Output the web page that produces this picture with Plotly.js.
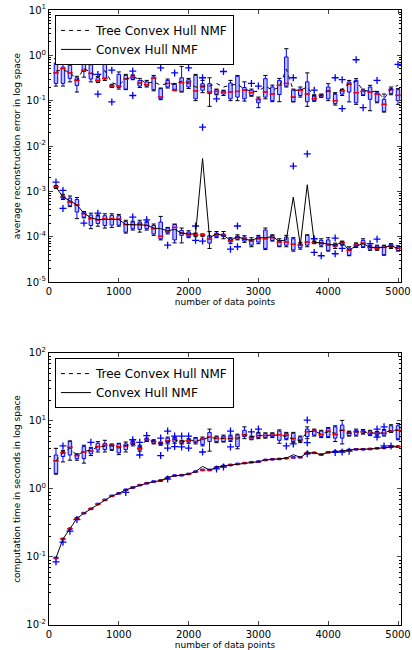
<!DOCTYPE html>
<html><head><meta charset="utf-8">
<script src="https://cdn.plot.ly/plotly-3.0.1.min.js"></script>
<style>html,body{margin:0;padding:0;background:#fff}#chart{width:412px;height:650px}</style>
</head><body><div id="chart"></div>
<script>
// number of data points (box positions)
const sizes = [100,200,300,400,500,600,700,800,900,1000,1100,1200,1300,1400,1500,1600,1700,1800,1900,2000,
  2100,2200,2300,2400,2500,2600,2700,2800,2900,3000,3100,3200,3300,3400,3500,3600,3700,3800,3900,4000,
  4100,4200,4300,4400,4500,4600,4700,4800,4900,5000];

// ---- Top: reconstruction error, Tree Convex Hull NMF ----
const errTreeQ1 = [.24,.24,.31,.215,.44,.30,.26,.30,.20,.195,.18,.30,.21,.21,.175,.11,.20,.17,.16,.20,
  .11,.17,.143,.14,.14,.11,.12,.11,.13,.09,.12,.10,.137,.21,.095,.13,.095,.10,.12,.11,
  .086,.14,.155,.09,.135,.107,.094,.058,.143,.10];
const errTreeMed = [.41,.51,.41,.28,.47,.40,.28,.31,.21,.21,.30,.33,.245,.226,.316,.12,.24,.172,.25,.26,
  .165,.21,.155,.16,.155,.155,.16,.17,.15,.107,.155,.14,.218,.24,.12,.17,.14,.11,.13,.16,
  .10,.165,.23,.15,.16,.155,.14,.083,.175,.131];
const errTreeQ3 = [.68,.55,.60,.32,.89,.62,.32,.85,.22,.38,.36,.36,.28,.26,.333,.184,.28,.23,.32,.29,
  .36,.237,.237,.175,.165,.245,.345,.195,.17,.11,.306,.20,.28,.92,.17,.18,.26,.13,.135,.20,
  .14,.175,.258,.28,.17,.20,.15,.107,.184,.175];
const errTreeLo = [.21,.21,.26,.155,.33,.26,.25,.28,.195,.18,.175,.29,.195,.20,.165,.105,.19,.165,.155,.185,
  .10,.15,.075,.135,.13,.10,.10,.098,.125,.07,.11,.095,.095,.20,.094,.12,.075,.097,.118,.10,
  .08,.13,.094,.083,.13,.06,.09,.056,.135,.083];
const errTreeHi = [.84,.78,.66,.345,1.05,.66,.34,1.05,.23,.43,.38,.37,.31,.28,.36,.19,.30,.24,.57,.31,
  .38,.28,.32,.18,.17,.28,.36,.26,.18,.12,.36,.22,.31,1.4,.18,.20,.41,.135,.14,.237,
  .15,.18,.28,.306,.18,.218,.16,.14,.20,.184];
const errTreeMean = [.45,.47,.43,.28,.52,.42,.33,.46,.25,.22,.30,.33,.30,.24,.26,.22,.24,.23,.27,.24,
  .20,.20,.21,.24,.20,.22,.23,.18,.16,.16,.21,.17,.20,.50,.17,.17,.20,.12,.13,.17,
  .14,.18,.24,.27,.17,.16,.16,.11,.18,.22];
const errTreeOutX = [700,700,900,900,1200,1200,1300,1600,1800,2000,2200,2200,2400,2400,2500,2900,3000,3500,3800,4100,4200,4200,4400,4500,4700,5000];
const errTreeOutY = [.38,.14,.47,.094,.45,.13,.84,.53,.41,.53,.32,.026,.77,.11,.44,.24,.21,.32,.17,.32,.29,.067,.8,.07,.28,.63];

// ---- Top: reconstruction error, Convex Hull NMF ----
const errHullQ1 = [1.2e-3,7.0e-4,4.8e-4,3.5e-4,2.7e-4,1.77e-4,1.95e-4,1.77e-4,1.8e-4,1.8e-4,1.26e-4,1.5e-4,1.45e-4,1.5e-4,1.15e-4,9.0e-5,1.22e-4,8.5e-5,1.07e-4,1.0e-4,
  1.05e-4,1.05e-4,7.2e-5,1.0e-4,1.0e-4,7.6e-5,8.8e-5,8e-5,6.5e-5,7.6e-5,5.5e-5,8.3e-5,6.2e-5,6.5e-5,5.1e-5,5.7e-5,6.5e-5,7.2e-5,6.5e-5,5e-5,
  6e-5,6.7e-5,3.9e-5,6e-5,6e-5,5.3e-5,5.2e-5,4e-5,5.8e-5,5e-5];
const errHullMed = [1.25e-3,7.4e-4,5.8e-4,5.0e-4,3.2e-4,2.5e-4,2.35e-4,2.5e-4,2.5e-4,2.45e-4,1.85e-4,1.85e-4,1.9e-4,1.77e-4,1.5e-4,1.02e-4,1.3e-4,1.6e-4,1.2e-4,1.1e-4,
  1.1e-4,1.1e-4,8.8e-5,1.1e-4,1.07e-4,8.1e-5,9.5e-5,8.8e-5,8.0e-5,9.0e-5,9.0e-5,9.5e-5,7.6e-5,7.6e-5,6.8e-5,6.5e-5,7.6e-5,7.4e-5,7.2e-5,6.5e-5,
  6.3e-5,7.4e-5,5e-5,6.5e-5,7.2e-5,5.8e-5,5.5e-5,5.8e-5,6.2e-5,5.6e-5];
const errHullQ3 = [1.3e-3,8.0e-4,7.1e-4,6.6e-4,3.5e-4,3.0e-4,2.9e-4,2.9e-4,2.95e-4,2.9e-4,2.15e-4,2.1e-4,2.1e-4,2.1e-4,1.77e-4,2.1e-4,1.55e-4,1.85e-4,1.37e-4,1.26e-4,
  1.15e-4,1.13e-4,1.05e-4,1.2e-4,1.15e-4,9.0e-5,1.03e-4,9.8e-5,8.6e-5,1.0e-4,1.4e-4,1.07e-4,8.3e-5,9.8e-5,9e-5,7e-5,1.07e-4,7.8e-5,8.3e-5,8.5e-5,
  6.8e-5,7.8e-5,5.6e-5,7e-5,8.3e-5,6.2e-5,6.2e-5,6.3e-5,6.8e-5,6e-5];
const errHullLo = [1.15e-3,6.6e-4,4.6e-4,2.5e-4,2.6e-4,1.5e-4,1.7e-4,1.55e-4,1.6e-4,1.7e-4,1.2e-4,1.4e-4,1.26e-4,1.4e-4,1.07e-4,8.5e-5,1.15e-4,7.3e-5,7.3e-5,9.5e-5,
  1.0e-4,1.02e-4,5.5e-5,9.5e-5,9e-5,7e-5,8.5e-5,7.5e-5,6e-5,7e-5,5.2e-5,8e-5,6e-5,6e-5,4.8e-5,5.3e-5,6e-5,7e-5,6e-5,4.8e-5,
  5.5e-5,6.5e-5,3.8e-5,5.8e-5,5.8e-5,5e-5,5e-5,3.9e-5,5.5e-5,4.8e-5];
const errHullHi = [1.35e-3,8.6e-4,7.9e-4,7.3e-4,3.6e-4,3.3e-4,3.0e-4,3.2e-4,3.2e-4,3.1e-4,2.3e-4,2.2e-4,2.3e-4,2.2e-4,1.9e-4,2.8e-4,1.6e-4,1.9e-4,1.55e-4,1.35e-4,
  1.2e-4,1.15e-4,1.3e-4,1.3e-4,1.3e-4,9.5e-5,1.1e-4,1.05e-4,9.5e-5,1.07e-4,1.55e-4,1.1e-4,9e-5,1.07e-4,9.5e-5,7.5e-5,1.1e-4,8e-5,9e-5,9.5e-5,
  7.2e-5,8e-5,6e-5,7.3e-5,9e-5,6.5e-5,6.5e-5,6.5e-5,7e-5,6.3e-5];
const errHullMean = [1.25e-3,7.5e-4,6.2e-4,5.0e-4,3.3e-4,2.6e-4,2.4e-4,2.4e-4,2.45e-4,2.4e-4,1.85e-4,1.85e-4,1.85e-4,1.8e-4,1.55e-4,1.5e-4,1.35e-4,1.45e-4,1.2e-4,1.15e-4,
  1.15e-4,5.3e-3,9.5e-5,1.15e-4,1.07e-4,8.3e-5,1.0e-4,8.8e-5,8.3e-5,9.5e-5,9.5e-5,1.0e-4,8.0e-5,8.5e-5,7.5e-4,6.5e-5,1.4e-3,7.5e-5,7.3e-5,6.8e-5,
  6.5e-5,7.5e-5,5.0e-5,6.3e-5,7.0e-5,5.8e-5,5.8e-5,5.8e-5,6.3e-5,5.5e-5];
const errHullOutX = [100,200,200,500,700,1200,1400,1700,2100,2100,2200,2600,2700,2700,3500,3700,3800,3800,3900,4100,4100,4200,4600,4700];
const errHullOutY = [1.6e-3,1.05e-3,4.2e-4,2.0e-4,3.3e-4,2.7e-4,2.35e-4,6.5e-5,1.72e-4,8.3e-5,8.0e-5,5.3e-5,1.72e-4,6.0e-5,3.6e-3,6.7e-3,9e-5,4.5e-5,3.8e-5,9.3e-5,4.2e-5,5.5e-5,7.0e-5,8.8e-5];

// ---- Bottom: computation time, Tree Convex Hull NMF ----
const timeTreeQ1 = [1.7,3.0,3.16,2.8,2.8,3.3,3.75,3.8,3.8,3.4,3.8,4.5,3.75,5.1,4.7,4.5,4.8,4.9,4.7,4.9,
  4.8,4.5,5.0,4.97,5.0,5.2,4.2,5.9,5.4,5.7,5.7,5.9,5.2,5.5,5.0,4.97,5.9,6.2,5.9,5.9,
  5.6,5.6,6.1,6.2,6.6,6.3,6.2,6.2,6.96,5.5];
const timeTreeMed = [2.6,3.4,4.1,3.1,3.5,3.6,4.2,4.4,4.4,4.2,4.3,4.7,3.95,5.35,4.97,4.7,5.1,5.35,4.97,5.1,
  5.0,5.4,5.8,5.55,5.55,5.55,5.7,6.3,5.7,6.1,6.1,6.2,6.3,6.2,5.55,5.3,6.96,7.1,6.3,7.1,
  6.3,7.3,6.6,6.96,6.96,6.6,6.6,6.6,7.1,7.3];
const timeTreeQ3 = [3.16,3.55,4.97,3.2,4.2,3.95,4.7,4.7,4.5,4.6,4.6,5.0,4.2,5.5,5.2,4.8,5.6,5.7,5.1,5.3,
  5.6,5.6,6.8,5.85,6.0,6.0,6.2,7.3,5.9,6.6,6.5,6.6,7.1,6.6,6.6,5.8,7.6,7.4,7.1,7.8,
  8.2,8.7,6.96,7.3,7.3,7.1,6.9,7.3,8.5,8.5];
const timeTreeLo = [1.65,2.5,2.65,2.65,2.4,3.1,3.5,3.5,3.7,3.2,3.5,4.3,3.6,5.0,4.6,4.4,4.6,4.7,4.6,4.7,
  4.6,4.3,3.6,4.8,4.9,5.0,3.9,5.5,5.3,5.5,5.6,5.7,4.7,5.3,4.8,4.8,5.5,6.0,5.7,5.7,
  5.0,4.6,6.0,6.0,6.4,6.1,6.0,6.0,6.8,5.3];
const timeTreeHi = [3.96,3.7,5.1,3.3,4.4,4.1,4.97,5.2,4.6,4.7,4.9,5.1,4.4,5.6,5.3,4.9,5.8,5.8,5.2,5.5,
  5.7,5.8,7.6,6.0,6.2,6.2,6.4,8.2,6.0,6.8,6.7,6.7,7.4,6.8,6.8,6.0,8.2,7.6,7.3,8.0,
  8.5,10.2,7.1,7.6,7.5,7.3,7.0,7.5,8.8,9.2];
const timeTreeMean = [2.6,3.4,4.0,3.1,3.6,3.7,4.2,4.2,4.3,4.0,4.3,4.7,4.0,5.3,5.0,4.7,5.0,5.3,4.9,5.3,
  5.1,5.3,5.8,5.5,5.6,5.5,5.4,6.3,5.8,6.1,6.1,6.2,6.2,5.9,5.4,5.1,7.0,7.0,6.5,6.9,
  6.6,7.3,6.6,6.9,6.9,6.7,6.6,6.7,7.3,7.3];
const timeTreeOutX = [200,600,1200,1300,1300,1400,1600,1600,1700,1700,1800,1800,1900,1900,2000,2000,2200,2600,2600,2900,3000,3400,3500,3700,3700,4700,4700,4800];
const timeTreeOutY = [4.3,4.85,5.3,4.85,3.16,6.1,5.6,3.1,7.1,4.0,6.0,4.2,6.0,4.15,6.0,4.0,3.5,7.1,4.15,6.9,7.6,4.3,4.6,10.3,4.8,7.6,5.8,8.2];

// ---- Bottom: computation time, Convex Hull NMF ----
const timeHullQ1 = [0.094,0.179,0.253,0.36,0.428,0.496,0.584,0.672,0.77,0.838,0.945,1.02,1.11,1.18,1.25,1.29,1.43,1.53,1.55,1.62,
  1.75,1.85,1.85,2.03,2.12,2.19,2.27,2.34,2.41,2.46,2.6,2.66,2.69,2.76,2.83,2.85,3.31,3.31,3.12,3.37,
  3.45,3.51,3.64,3.73,3.73,3.77,3.86,3.95,4.09,4.09];
const timeHullMed = [0.097,0.184,0.26,0.37,0.44,0.51,0.60,0.69,0.79,0.86,0.97,1.05,1.14,1.21,1.28,1.33,1.47,1.57,1.59,1.66,
  1.8,1.9,1.9,2.08,2.18,2.25,2.33,2.4,2.47,2.52,2.67,2.73,2.76,2.83,2.9,2.92,3.4,3.4,3.2,3.46,
  3.54,3.6,3.74,3.83,3.83,3.87,3.96,4.05,4.2,4.2];
const timeHullQ3 = [0.1,0.19,0.268,0.382,0.454,0.526,0.618,0.71,0.814,0.886,1.0,1.08,1.17,1.25,1.32,1.37,1.51,1.62,1.64,1.71,
  1.85,1.96,1.96,2.14,2.25,2.32,2.4,2.47,2.54,2.6,2.75,2.81,2.84,2.91,2.99,3.01,3.5,3.5,3.3,3.56,
  3.65,3.71,3.85,3.94,3.94,3.99,4.08,4.17,4.33,4.33];
const timeHullMean = [0.097,0.184,0.26,0.37,0.44,0.51,0.60,0.69,0.79,0.86,0.97,1.05,1.14,1.21,1.28,1.33,1.47,1.57,1.59,1.66,
  1.8,2.15,1.9,2.08,2.18,2.25,2.33,2.4,2.47,2.52,2.67,2.73,2.76,2.83,3.2,2.92,3.4,3.4,3.2,3.46,
  3.54,3.6,3.74,3.83,3.83,3.87,3.96,4.05,4.2,4.2];
const timeHullOutX = [100,200,300,400,1100,1700,2400,2500,3700,4100,4200,4300,4800,4900];
const timeHullOutY = [0.085,0.165,0.24,0.355,0.89,1.4,1.97,2.1,3.3,3.45,3.5,3.6,4.3,4.3];

// tick labels
const xTickVals = [0,1000,2000,3000,4000,5000];
const yTopTickVals = [1e-5,1e-4,1e-3,1e-2,1e-1,1,10];
const yTopTickText = ['10<sup>-5</sup>','10<sup>-4</sup>','10<sup>-3</sup>','10<sup>-2</sup>','10<sup>-1</sup>','10<sup>0</sup>','10<sup>1</sup>'];
const yBotTickVals = [1e-2,1e-1,1,10,100];
const yBotTickText = ['10<sup>-2</sup>','10<sup>-1</sup>','10<sup>0</sup>','10<sup>1</sup>','10<sup>2</sup>'];
const seriesNames = ['Tree Convex Hull NMF','Convex Hull NMF'];

const BLUE = '#0000ff';
const traces = [];
function addBoxes(xa, ya, q1, med, q3, lo, hi, outX, outY, caps) {
  traces.push({type:'box', x:sizes, q1:q1, median:med, q3:q3, lowerfence:lo, upperfence:hi,
    xaxis:xa, yaxis:ya, width:50, whiskerwidth:0, boxpoints:false,
    line:{color:BLUE, width:1}, fillcolor:'rgba(100,100,255,0.4)', showlegend:false, hoverinfo:'skip'});
  if (caps) {
    traces.push({type:'scatter', mode:'markers', x:sizes.concat(sizes), y:lo.concat(hi), xaxis:xa, yaxis:ya,
      marker:{symbol:'line-ew', size:3, line:{color:'black', width:1}}, showlegend:false, hoverinfo:'skip'});
  }
  traces.push({type:'scatter', mode:'markers', x:sizes, y:med, xaxis:xa, yaxis:ya,
    marker:{symbol:'line-ew', size:4, line:{color:'red', width:1.5}}, showlegend:false, hoverinfo:'skip'});
  traces.push({type:'scatter', mode:'markers', x:outX, y:outY, xaxis:xa, yaxis:ya,
    marker:{symbol:'cross-thin', size:5, line:{color:BLUE, width:1.3}}, showlegend:false, hoverinfo:'skip'});
}
addBoxes('x','y', errTreeQ1, errTreeMed, errTreeQ3, errTreeLo, errTreeHi, errTreeOutX, errTreeOutY, true);
addBoxes('x','y', errHullQ1, errHullMed, errHullQ3, errHullLo, errHullHi, errHullOutX, errHullOutY, true);
addBoxes('x2','y2', timeTreeQ1, timeTreeMed, timeTreeQ3, timeTreeLo, timeTreeHi, timeTreeOutX, timeTreeOutY, true);
addBoxes('x2','y2', timeHullQ1, timeHullMed, timeHullQ3, timeHullQ1, timeHullQ3, timeHullOutX, timeHullOutY, false);

traces.push({type:'scatter', mode:'lines', x:sizes, y:errTreeMean, xaxis:'x', yaxis:'y', name:seriesNames[0],
  line:{color:'black', width:1, dash:'4px,4px'}, legend:'legend'});
traces.push({type:'scatter', mode:'lines', x:sizes, y:errHullMean, xaxis:'x', yaxis:'y', name:seriesNames[1],
  line:{color:'black', width:1}, legend:'legend'});
traces.push({type:'scatter', mode:'lines', x:sizes, y:timeTreeMean, xaxis:'x2', yaxis:'y2', name:seriesNames[0],
  line:{color:'black', width:1, dash:'4px,4px'}, legend:'legend2'});
traces.push({type:'scatter', mode:'lines', x:sizes, y:timeHullMean, xaxis:'x2', yaxis:'y2', name:seriesNames[1],
  line:{color:'black', width:1}, legend:'legend2'});

function minorVals(lo, hi) {
  const v = [];
  for (let e = lo; e < hi; e++) for (let m = 2; m <= 9; m++) v.push(m * Math.pow(10, e));
  return v;
}
const FONT = {family:'DejaVu Sans, sans-serif', size:9, color:'black'};
const TICKFONT = {family:'DejaVu Sans, sans-serif', size:10, color:'black'};
function xAxis(anchor) {
  return {anchor:anchor, range:[0,5043], tickvals:xTickVals, ticks:'inside', ticklen:4, showline:true,
    linecolor:'black', linewidth:1, mirror:'ticks', showgrid:false, zeroline:false, tickfont:TICKFONT,
    title:{text:'number of data points', font:FONT, standoff:1}};
}
function yAxis(anchor, range, tv, tt, title, domain) {
  return {anchor:anchor, type:'log', range:range, domain:domain, tickvals:tv, ticktext:tt, ticks:'inside', ticklen:4,
    showline:true, linecolor:'black', linewidth:1, mirror:'ticks', showgrid:false, zeroline:false, tickfont:TICKFONT,
    minor:{tickvals:minorVals(range[0], range[1]), ticks:'inside', ticklen:2, tickcolor:'black', showgrid:false},
    title:{text:title, font:FONT, standoff:4}};
}
const legendStyle = {x:0.017, xanchor:'left', yanchor:'top', bgcolor:'white', bordercolor:'black', borderwidth:1,
  font:{family:'DejaVu Sans, sans-serif', size:12, color:'black'}, tracegroupgap:0, itemwidth:30};

const layout = {
  width:412, height:650, margin:{l:49, r:11, t:10, b:25}, paper_bgcolor:'white', plot_bgcolor:'white',
  font:FONT, showlegend:true, boxmode:'overlay',
  xaxis: xAxis('y'),
  yaxis: yAxis('x', [-5,1], yTopTickVals, yTopTickText, 'average reconstruction error in log space', [0.5577,1]),
  xaxis2: xAxis('y2'),
  yaxis2: yAxis('x2', [-2,2], yBotTickVals, yBotTickText, 'computation time in seconds in log space', [0,0.4423]),
  legend: Object.assign({y:0.992}, legendStyle),
  legend2: Object.assign({y:0.434}, legendStyle)
};
Plotly.newPlot('chart', traces, layout, {staticPlot:true, displayModeBar:false});
</script>
</body></html>
